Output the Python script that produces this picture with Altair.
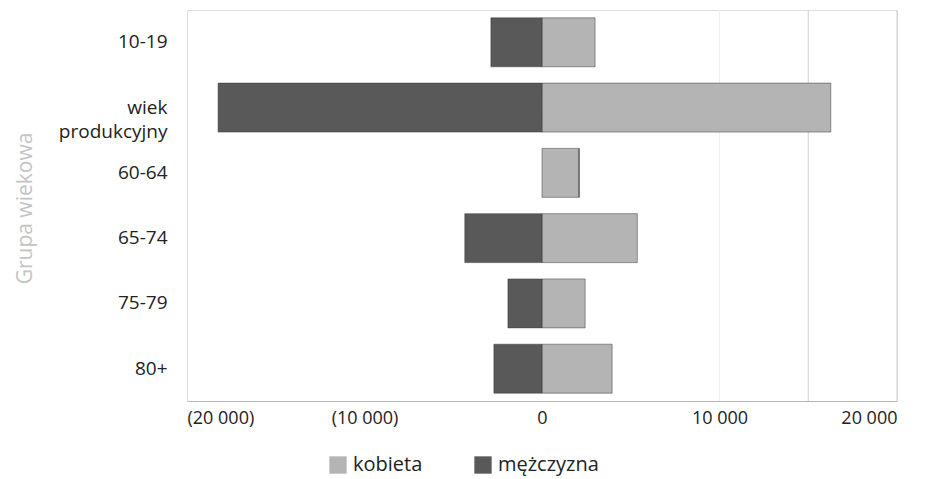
import altair as alt
import pandas as pd

categories = ["10-19", "wiek produkcyjny", "60-64", "65-74", "75-79", "80+"]
kobieta = [2990, 16270, 2090, 5370, 2430, 3950]
mezczyzna = [-2880, -18250, 0, -4350, -1920, -2710]
series = ["kobieta", "mężczyzna"]
colors = ["#b4b4b4", "#595959"]
grid_main = [15000, 20000]
grid_faint = [10000]
tick_values = [-20000, -10000, 0, 10000, 20000]

rows = []
for c, k, m in zip(categories, kobieta, mezczyzna):
    rows.append({"grupa": c, "plec": "kobieta", "wartosc": k})
    rows.append({"grupa": c, "plec": "mężczyzna", "wartosc": m})
df = pd.DataFrame(rows)

FONT = "Open Sans"

xscale = alt.Scale(domain=[-20000, 20000], nice=False, zero=False)

label_expr = (
    "datum.value < 0 ? '(' + replace(format(-datum.value, ','), ',', ' ') + ')' "
    ": replace(format(datum.value, ','), ',', ' ')"
)

bars = alt.Chart(df).mark_bar(stroke="#3a3a3a", strokeWidth=1, strokeOpacity=0.5).encode(
    y=alt.Y(
        "grupa:N",
        sort=categories,
        scale=alt.Scale(paddingInner=0.25, paddingOuter=0.12),
        axis=alt.Axis(
            title="Grupa wiekowa",
            titleColor="#c4c4c4",
            titleFont=FONT,
            titleFontSize=21,
            titleFontWeight="normal",
            titleAngle=-90,
            titleX=-162,
            titleY=198,
            titleAlign="center",
            titleBaseline="middle",
            labelFont=FONT,
            labelFontSize=19,
            labelColor="#222222",
            labelPadding=20,
            labelExpr="datum.label == 'wiek produkcyjny' ? ['wiek', 'produkcyjny'] : datum.label",
            labelLineHeight=24,
            ticks=False,
            domain=False,
            grid=False,
        ),
    ),
    x=alt.X(
        "wartosc:Q",
        scale=xscale,
        axis=alt.Axis(
            title=None,
            values=tick_values,
            labelExpr=label_expr,
            labelFont=FONT,
            labelFontSize=18,
            labelColor="#222222",
            labelPadding=8,
            ticks=False,
            grid=False,
            domainColor="#b8b8b8",
            domainWidth=1,
        ),
    ),
    color=alt.Color(
        "plec:N",
        scale=alt.Scale(domain=series, range=colors),
        legend=alt.Legend(
            title=None,
            orient="none",
            direction="horizontal",
            legendX=141,
            legendY=445,
            symbolType="square",
            symbolSize=300,
            symbolStrokeWidth=0,
            labelFont=FONT,
            labelFontSize=20,
            labelColor="#222222",
            labelOffset=5,
            columnPadding=50,
        ),
    ),
)

grid1 = alt.Chart(pd.DataFrame({"g": grid_main})).mark_rule(color="#cfcfcf", strokeWidth=1).encode(
    x=alt.X("g:Q", scale=xscale)
)
grid2 = alt.Chart(pd.DataFrame({"g": grid_faint})).mark_rule(color="#efefef", strokeWidth=1).encode(
    x=alt.X("g:Q", scale=xscale)
)

chart = (
    alt.layer(grid2, grid1, bars)
    .properties(
        width=710,
        height=391,
        autosize=alt.AutoSizeParams(type="none"),
        padding={"left": 179, "top": 2, "right": 14, "bottom": 78},
    )
    .configure_view(stroke=None)
    .configure(background="white")
)

chart.save("out.html", embed_options={"renderer": "svg", "actions": False})
